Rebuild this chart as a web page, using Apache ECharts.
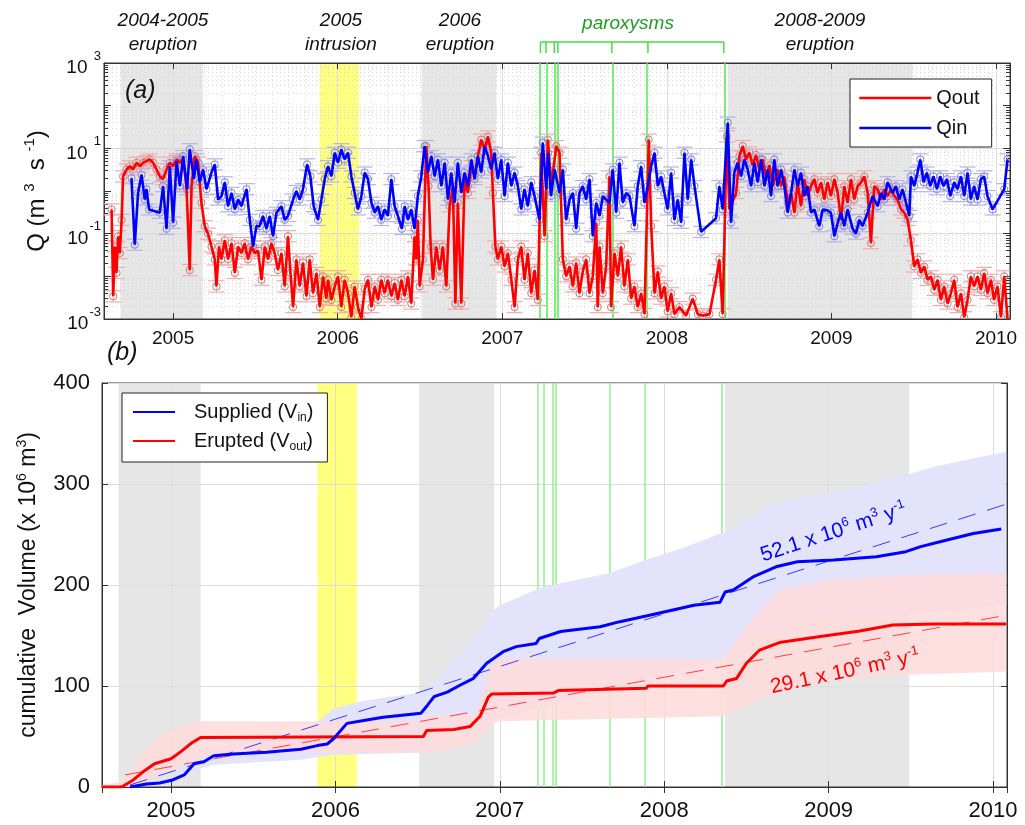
<!DOCTYPE html>
<html>
<head>
<meta charset="utf-8">
<script src="https://cdn.jsdelivr.net/npm/echarts@6/dist/echarts.min.js"></script>
<style>
  html, body { margin: 0; padding: 0; background: #fff; }
  #main { width: 1025px; height: 825px; }
</style>
</head>
<body>
<div id="main"></div>
<script>
// ---- data (time in decimal years) ----
// eruptive / intrusive periods
const eruptions = [[2004.68, 2005.18], [2006.51, 2006.965], [2008.37, 2009.49]];
const intrusion = [2005.89, 2006.13];
const paroxysms = [2007.232, 2007.266, 2007.316, 2007.338, 2007.666, 2007.885, 2008.346];

// (a) magma flux Qin, m3/s
const qin = [
  [2004.747, 2.0], [2004.767, 0.055], [2004.787, 0.9], [2004.808, 2.4], [2004.828, 0.63], [2004.838, 1.1],
  [2004.854, 0.37], [2004.919, 0.31], [2004.939, 1.3], [2004.960, 0.13], [2004.980, 3.8], [2005.000, 0.18],
  [2005.021, 5], [2005.041, 1.3], [2005.061, 6.6], [2005.085, 1.1], [2005.101, 9.5], [2005.126, 1.9],
  [2005.142, 5.5], [2005.162, 1.6], [2005.182, 3.2], [2005.203, 1.1], [2005.233, 2.7], [2005.253, 4.2],
  [2005.273, 0.63], [2005.294, 0.76], [2005.314, 1.6], [2005.334, 0.44], [2005.355, 0.9], [2005.375, 0.37],
  [2005.395, 0.63], [2005.415, 0.44], [2005.446, 1.1], [2005.466, 0.21], [2005.486, 0.05], [2005.506, 0.15],
  [2005.526, 0.15], [2005.546, 0.26], [2005.567, 0.13], [2005.587, 0.26], [2005.607, 0.087], [2005.628, 0.31],
  [2005.658, 0.44], [2005.678, 0.21], [2005.698, 0.26], [2005.729, 0.63], [2005.749, 1.0], [2005.769, 0.63],
  [2005.789, 1.1], [2005.814, 4.2], [2005.834, 2.2], [2005.854, 0.44], [2005.880, 0.21], [2005.901, 0.63],
  [2005.921, 1.9], [2005.941, 3.8], [2005.962, 2.2], [2005.982, 7.9], [2006.002, 4.6], [2006.022, 9.5],
  [2006.042, 5.5], [2006.063, 7.9], [2006.083, 2.2], [2006.103, 0.9], [2006.123, 0.37], [2006.144, 0.76],
  [2006.164, 2.7], [2006.184, 1.9], [2006.205, 0.53], [2006.225, 0.31], [2006.245, 0.44], [2006.265, 0.21],
  [2006.285, 0.37], [2006.305, 0.26], [2006.326, 1.9], [2006.346, 0.44], [2006.366, 0.26], [2006.390, 0.13],
  [2006.407, 0.44], [2006.427, 0.21], [2006.447, 0.37], [2006.467, 0.13], [2006.487, 0.76], [2006.508, 2.2],
  [2006.528, 11.3], [2006.548, 2.7], [2006.569, 6.6], [2006.589, 2.2], [2006.609, 5.5], [2006.630, 1.3],
  [2006.650, 4.6], [2006.670, 0.63], [2006.690, 2.7], [2006.710, 0.53], [2006.730, 4.6], [2006.751, 0.9],
  [2006.771, 2.7], [2006.791, 1.3], [2006.812, 5.5], [2006.832, 1.9], [2006.852, 6.6], [2006.872, 2.7],
  [2006.893, 11.3], [2006.913, 6.6], [2006.933, 3.2], [2006.953, 7.9], [2006.973, 1.9], [2006.994, 5.5],
  [2007.014, 0.76], [2007.034, 4.6], [2007.055, 1.3], [2007.075, 2.7], [2007.095, 1.3], [2007.115, 0.37],
  [2007.135, 1.1], [2007.155, 0.44], [2007.176, 1.6], [2007.196, 0.76], [2007.226, 0.21], [2007.246, 13.6],
  [2007.267, 1.1], [2007.279, 7.9], [2007.296, 0.76], [2007.318, 3.2], [2007.348, 0.9], [2007.368, 3.2],
  [2007.388, 0.21], [2007.409, 0.63], [2007.429, 0.9], [2007.449, 0.13], [2007.469, 0.9], [2007.489, 1.3],
  [2007.510, 0.63], [2007.530, 1.9], [2007.550, 0.087], [2007.571, 0.53], [2007.591, 0.26], [2007.611, 0.76],
  [2007.631, 0.63], [2007.651, 0.53], [2007.671, 3.2], [2007.692, 0.31], [2007.712, 4.6], [2007.732, 0.53],
  [2007.753, 0.9], [2007.773, 0.76], [2007.803, 0.15], [2007.823, 1.3], [2007.844, 3.8], [2007.864, 0.53],
  [2007.884, 1.3], [2007.905, 3.8], [2007.925, 7.9], [2007.945, 1.3], [2007.965, 2.2], [2007.985, 0.9],
  [2008.005, 0.37], [2008.026, 2.7], [2008.046, 0.21], [2008.066, 0.63], [2008.087, 0.18], [2008.107, 7.9],
  [2008.127, 0.63], [2008.148, 5.5], [2008.168, 1.3], [2008.208, 0.11], [2008.299, 0.23], [2008.319, 1.3],
  [2008.339, 0.37], [2008.370, 40], [2008.390, 0.18], [2008.410, 2.7], [2008.430, 4.6], [2008.451, 2.2],
  [2008.471, 5.5], [2008.491, 3.2], [2008.512, 1.3], [2008.532, 4.6], [2008.552, 1.6], [2008.573, 5.5],
  [2008.593, 1.3], [2008.613, 3.2], [2008.633, 0.76], [2008.653, 5.5], [2008.673, 1.3], [2008.694, 3.2],
  [2008.714, 1.3], [2008.734, 0.31], [2008.755, 0.9], [2008.775, 3.2], [2008.795, 1.3], [2008.815, 2.7],
  [2008.835, 0.76], [2008.855, 1.3], [2008.876, 0.31], [2008.896, 0.37], [2008.926, 0.15], [2008.947, 0.37],
  [2008.977, 0.35], [2008.997, 0.31], [2009.018, 0.087], [2009.038, 0.18], [2009.058, 0.31], [2009.078, 0.15],
  [2009.098, 0.37], [2009.129, 0.13], [2009.149, 0.1], [2009.169, 0.21], [2009.189, 0.15], [2009.220, 0.31],
  [2009.250, 0.76], [2009.281, 0.44], [2009.301, 0.9], [2009.321, 0.63], [2009.341, 1.6], [2009.372, 0.9],
  [2009.392, 1.3], [2009.412, 0.63], [2009.432, 1.1], [2009.453, 0.53], [2009.473, 0.26], [2009.483, 2.2],
  [2009.503, 1.3], [2009.523, 2.7], [2009.540, 5.5], [2009.560, 1.6], [2009.580, 2.7], [2009.600, 1.3],
  [2009.620, 2.2], [2009.641, 1.1], [2009.661, 2.2], [2009.681, 1.3], [2009.702, 1.9], [2009.722, 0.76],
  [2009.746, 1.6], [2009.766, 1.1], [2009.787, 2.2], [2009.807, 0.76], [2009.827, 2.7], [2009.847, 0.63],
  [2009.867, 1.3], [2009.888, 0.63], [2009.908, 1.9], [2009.928, 2.2], [2009.948, 0.76], [2009.979, 0.37],
  [2010.050, 1.1], [2010.070, 5.5]
];

// (a) output rate Qout, m3/s
const qout = [
  [2004.626, 0.37], [2004.636, 0.0034], [2004.646, 0.05], [2004.656, 0.012], [2004.666, 0.087], [2004.676, 0.035],
  [2004.687, 0.21], [2004.696, 2.2], [2004.717, 3.2], [2004.737, 3.8], [2004.757, 3.2], [2004.778, 4.6],
  [2004.798, 3.8], [2004.818, 4.6], [2004.838, 5], [2004.858, 5.5], [2004.879, 4.6], [2004.899, 3.2],
  [2004.919, 2.2], [2004.939, 1.9], [2004.960, 3.2], [2004.980, 4.6], [2005.000, 3.8], [2005.021, 5.5],
  [2005.041, 4.6], [2005.061, 5.5], [2005.081, 1.3], [2005.101, 0.014], [2005.112, 1.3], [2005.132, 6.6],
  [2005.152, 4.6], [2005.172, 0.53], [2005.192, 0.15], [2005.212, 0.1], [2005.233, 0.05], [2005.253, 0.025],
  [2005.263, 0.0058], [2005.279, 0.05], [2005.294, 0.025], [2005.314, 0.07], [2005.334, 0.025], [2005.355, 0.06],
  [2005.375, 0.012], [2005.395, 0.05], [2005.415, 0.035], [2005.435, 0.06], [2005.455, 0.025], [2005.476, 0.05],
  [2005.496, 0.035], [2005.516, 0.04], [2005.537, 0.0083], [2005.557, 0.05], [2005.577, 0.025], [2005.597, 0.06],
  [2005.617, 0.035], [2005.637, 0.014], [2005.658, 0.035], [2005.678, 0.0058], [2005.698, 0.087], [2005.713, 0.012],
  [2005.729, 0.0019], [2005.749, 0.025], [2005.769, 0.0058], [2005.789, 0.021], [2005.810, 0.0034], [2005.830, 0.025],
  [2005.850, 0.004], [2005.871, 0.012], [2005.891, 0.0019], [2005.911, 0.01], [2005.931, 0.003], [2005.941, 0.0083],
  [2005.962, 0.0028], [2005.982, 0.0058], [2006.002, 0.01], [2006.022, 0.0019], [2006.042, 0.0083], [2006.063, 0.004],
  [2006.083, 0.0011], [2006.103, 0.0058], [2006.123, 0.0019], [2006.144, 0.001], [2006.164, 0.005], [2006.184, 0.0083],
  [2006.205, 0.0019], [2006.225, 0.0058], [2006.245, 0.0028], [2006.265, 0.0083], [2006.285, 0.004], [2006.305, 0.0083],
  [2006.326, 0.0034], [2006.346, 0.007], [2006.366, 0.0028], [2006.387, 0.0083], [2006.407, 0.0034], [2006.427, 0.01],
  [2006.447, 0.0023], [2006.467, 0.087], [2006.477, 0.025], [2006.487, 0.21], [2006.498, 0.0058], [2006.518, 0.025],
  [2006.538, 11.3], [2006.552, 1.3], [2006.565, 0.05], [2006.579, 0.0083], [2006.599, 0.05], [2006.619, 0.014],
  [2006.639, 0.05], [2006.660, 0.0058], [2006.680, 0.44], [2006.700, 1.3], [2006.715, 0.0023], [2006.730, 0.53],
  [2006.751, 0.0023], [2006.771, 1.9], [2006.791, 0.9], [2006.812, 3.8], [2006.832, 2.2], [2006.852, 6.6],
  [2006.872, 16], [2006.893, 9.5], [2006.913, 19], [2006.933, 7.9], [2006.943, 0.9], [2006.958, 0.05],
  [2006.973, 0.025], [2006.994, 0.05], [2007.014, 0.017], [2007.034, 0.035], [2007.055, 0.0083], [2007.075, 0.0019],
  [2007.095, 0.025], [2007.115, 0.05], [2007.135, 0.0083], [2007.155, 0.035], [2007.176, 0.004], [2007.196, 0.014],
  [2007.216, 0.0028], [2007.236, 7.9], [2007.257, 0.087], [2007.277, 16], [2007.297, 1.3], [2007.328, 11.3],
  [2007.348, 7.9], [2007.368, 0.025], [2007.388, 0.01], [2007.409, 0.017], [2007.429, 0.0058], [2007.449, 0.021],
  [2007.469, 0.004], [2007.489, 0.013], [2007.510, 0.025], [2007.530, 0.004], [2007.550, 0.01], [2007.571, 0.18],
  [2007.580, 0.0019], [2007.591, 0.05], [2007.611, 0.004], [2007.631, 0.017], [2007.651, 2.2], [2007.661, 0.0019],
  [2007.682, 0.035], [2007.702, 0.01], [2007.722, 0.05], [2007.742, 0.0058], [2007.763, 0.025], [2007.783, 0.003],
  [2007.803, 0.0058], [2007.823, 0.0019], [2007.844, 0.004], [2007.864, 0.0013], [2007.890, 16], [2007.905, 0.15],
  [2007.925, 0.004], [2007.945, 0.013], [2007.965, 0.003], [2007.985, 0.0058], [2008.005, 0.0015], [2008.026, 0.004],
  [2008.046, 0.0013], [2008.076, 0.0019], [2008.117, 0.0012], [2008.157, 0.003], [2008.188, 0.0013], [2008.218, 0.0012],
  [2008.259, 0.0013], [2008.299, 0.0083], [2008.319, 0.025], [2008.339, 0.0013], [2008.364, 19], [2008.380, 0.37],
  [2008.421, 0.9], [2008.441, 6.6], [2008.461, 11.3], [2008.481, 5.5], [2008.501, 8], [2008.522, 4],
  [2008.542, 7], [2008.562, 3.2], [2008.582, 5.5], [2008.603, 2.2], [2008.623, 4], [2008.643, 1.3],
  [2008.673, 3.2], [2008.694, 1.3], [2008.714, 2.2], [2008.734, 0.53], [2008.755, 0.9], [2008.775, 0.31],
  [2008.795, 1.6], [2008.815, 0.44], [2008.835, 1.9], [2008.855, 0.76], [2008.876, 1.3], [2008.896, 1.9],
  [2008.916, 0.9], [2008.937, 1.6], [2008.957, 0.63], [2008.977, 1.6], [2008.997, 0.76], [2009.018, 1.9],
  [2009.038, 0.9], [2009.058, 0.21], [2009.078, 1.3], [2009.098, 0.53], [2009.119, 1.9], [2009.139, 0.63],
  [2009.159, 1.3], [2009.180, 1.6], [2009.200, 2.2], [2009.220, 0.9], [2009.240, 0.06], [2009.260, 1.3],
  [2009.281, 1.1], [2009.301, 0.63], [2009.321, 1.1], [2009.341, 0.76], [2009.362, 1.1], [2009.382, 0.76],
  [2009.402, 0.63], [2009.423, 0.37], [2009.443, 0.31], [2009.463, 0.21], [2009.483, 0.07], [2009.503, 0.017],
  [2009.523, 0.025], [2009.544, 0.012], [2009.564, 0.017], [2009.584, 0.0083], [2009.605, 0.01], [2009.625, 0.0048],
  [2009.645, 0.0083], [2009.665, 0.0028], [2009.685, 0.0058], [2009.706, 0.0023], [2009.726, 0.004], [2009.746, 0.0083],
  [2009.766, 0.0019], [2009.787, 0.004], [2009.807, 0.0011], [2009.827, 0.0028], [2009.847, 0.01], [2009.867, 0.0058],
  [2009.888, 0.01], [2009.908, 0.0048], [2009.928, 0.012], [2009.948, 0.004], [2009.969, 0.0083], [2009.988, 0.0028],
  [2010.009, 0.0058], [2010.030, 0.0011], [2010.050, 0.01], [2010.070, 0.001]
];

// (b) cumulative volumes, 10^6 m3
const vin = [
  [2004.75, 0], [2004.85, 3], [2004.93, 4], [2005.01, 7], [2005.08, 12], [2005.14, 23], [2005.20, 25],
  [2005.26, 31], [2005.38, 32.7], [2005.58, 34.3], [2005.79, 37.3], [2005.89, 41], [2005.95, 42.6],
  [2005.99, 48], [2006.07, 63], [2006.19, 66.3], [2006.29, 69], [2006.52, 73], [2006.56, 81], [2006.60, 89.4],
  [2006.68, 94], [2006.76, 101], [2006.84, 107.6], [2006.92, 122.5], [2007.02, 134], [2007.10, 139],
  [2007.22, 142], [2007.24, 147], [2007.37, 154], [2007.61, 158.7], [2007.73, 163.7], [2007.89, 169.3],
  [2008.10, 177], [2008.18, 180], [2008.34, 183], [2008.35, 183.5], [2008.37, 193], [2008.42, 195],
  [2008.54, 208], [2008.68, 218], [2008.81, 223], [2009.03, 224.8], [2009.29, 228], [2009.47, 233],
  [2009.56, 238], [2009.72, 244.6], [2009.88, 251], [2010.05, 255.4]
];
const vout = [
  [2004.58, 0], [2004.70, 0], [2004.77, 7], [2004.83, 15], [2004.90, 23], [2005.00, 28], [2005.06, 35],
  [2005.12, 43], [2005.18, 49], [2006.535, 50], [2006.555, 56], [2006.72, 57], [2006.82, 60], [2006.88, 70],
  [2006.93, 89], [2006.95, 92], [2007.325, 93], [2007.355, 95.5], [2007.89, 97.7], [2007.90, 100],
  [2008.36, 100], [2008.38, 105], [2008.44, 107.5], [2008.50, 122.5], [2008.58, 135.6], [2008.70, 143],
  [2008.95, 149], [2009.19, 154.5], [2009.39, 160.4], [2009.64, 161.4], [2010.08, 161.4]
];
// uncertainty envelopes
const vinHigh = [
  [2004.75, 0], [2005.0, 12], [2005.2, 35], [2005.26, 40], [2005.785, 50], [2005.99, 78], [2006.19, 86],
  [2006.5, 93], [2006.6, 103], [2006.8, 139], [2006.96, 175], [2007.0, 180], [2007.26, 198], [2007.67, 212],
  [2007.89, 225], [2008.14, 238], [2008.34, 251], [2008.4, 254], [2008.62, 277], [2008.82, 287],
  [2009.03, 291], [2009.43, 307], [2009.64, 317], [2009.84, 324], [2010.08, 332]
];
const vinLow = [
  [2004.75, 0], [2005.26, 22], [2005.79, 27], [2005.99, 32], [2006.5, 34], [2006.6, 40], [2006.8, 56],
  [2006.96, 66], [2007.5, 90], [2008.0, 110], [2008.35, 125], [2008.45, 140], [2008.7, 160], [2009.4, 170],
  [2010.08, 180]
];
const voutHigh = [
  [2004.58, 2], [2004.70, 5], [2004.77, 20], [2004.83, 34], [2004.93, 50], [2005.04, 60], [2005.14, 65],
  [2006.5, 65], [2006.55, 70], [2006.85, 72], [2006.95, 120], [2007.0, 127], [2008.36, 127], [2008.5, 160],
  [2008.7, 195], [2009.0, 205], [2009.5, 210], [2010.08, 212]
];
const voutLow = [
  [2004.58, 0], [2004.75, 0], [2004.98, 14], [2005.18, 30], [2005.3, 34], [2006.5, 34], [2006.6, 35],
  [2006.84, 43], [2006.96, 63], [2007.0, 65], [2008.37, 70], [2008.5, 81], [2008.62, 89], [2008.82, 99],
  [2009.03, 106], [2009.43, 111], [2010.08, 114]
];
// linear trends (52.1 and 29.1 x 10^6 m3/y)
const vinTrend = [[2004.75, 2], [2010.08, 280]];
const voutTrend = [[2004.72, 12], [2010.08, 170]];

// ---- look ----
const xMin = 2004.58, xMax = 2010.085;
const fontA = 'Liberation Sans, Arial, sans-serif';
const errFactor = 1.35;   // relative error drawn on the flux samples
const capWidth = 16;

const chart = echarts.init(document.getElementById('main'));

const yearLabel = v => Math.abs(v - Math.round(v)) < 1e-6 ? String(Math.round(v)) : '';

function xAxes(grid, labelSize, margin, minorGrid) {
  return [{
    gridIndex: grid, type: 'value', min: xMin, max: xMax, position: 'bottom',
    axisLine: { lineStyle: { color: '#333' } },
    axisTick: { inside: true, length: 6, lineStyle: { color: '#333' } },
    axisLabel: { formatter: yearLabel, fontSize: labelSize, fontFamily: fontA, color: '#111', margin: margin },
    splitLine: { show: true, lineStyle: { color: '#dcdcdc', width: 1 } },
    minorTick: { show: false, splitNumber: 10 },
    minorSplitLine: { show: minorGrid, lineStyle: { color: '#dcdcdc', type: [1, 3] } }
  }, {
    gridIndex: grid, type: 'value', min: xMin, max: xMax, position: 'top',
    axisLine: { lineStyle: { color: '#333' } },
    axisTick: { inside: true, length: 6, lineStyle: { color: '#333' } },
    axisLabel: { show: false }, splitLine: { show: false }
  }];
}

function errorBars(circleColor, capColor) {
  return function (params, api) {
    const x = api.value(0), y = api.value(1);
    const c = api.coord([x, y]);
    const hi = api.coord([x, y * errFactor])[1];
    const lo = api.coord([x, y / errFactor])[1];
    const w = capWidth / 2;
    return {
      type: 'group',
      children: [
        { type: 'line', shape: { x1: c[0], y1: hi, x2: c[0], y2: lo }, style: { stroke: capColor, lineWidth: 1 } },
        { type: 'line', shape: { x1: c[0] - w, y1: hi, x2: c[0] + w, y2: hi }, style: { stroke: capColor, lineWidth: 1.2 } },
        { type: 'line', shape: { x1: c[0] - w, y1: lo, x2: c[0] + w, y2: lo }, style: { stroke: capColor, lineWidth: 1.2 } },
        { type: 'circle', shape: { cx: c[0], cy: c[1], r: 3.6 }, style: { fill: 'none', stroke: circleColor, lineWidth: 1 } }
      ]
    };
  };
}

function band(upper, lower, color) {
  return function (params, api) {
    const pts = upper.map(d => api.coord(d)).concat(lower.slice().reverse().map(d => api.coord(d)));
    return { type: 'polygon', shape: { points: pts }, style: { fill: color } };
  };
}

const shading = {
  silent: true, z: -1,
  itemStyle: { color: '#e6e6e6' },
  data: eruptions.map(p => [{ xAxis: p[0] }, { xAxis: p[1] }])
    .concat([[{ xAxis: intrusion[0], itemStyle: { color: '#ffff80' } }, { xAxis: intrusion[1] }]])
};

function paroxysmLines(color) {
  return {
    silent: true, z: 1, symbol: ['none', 'none'],
    label: { show: false },
    lineStyle: { color: color, width: 1.5, type: 'solid' },
    data: paroxysms.map(t => ({ xAxis: t }))
  };
}

const supRich = {
  b: { fontSize: 19, fontFamily: fontA, color: '#111', padding: [10, 0, 0, 0] },
  s: { fontSize: 13, fontFamily: fontA, color: '#111', padding: [0, 0, 14, 1] }
};

const topNote = 'italic 19px ' + fontA;

const option = {
  animation: false,
  backgroundColor: '#fff',
  grid: [
    { left: 104, top: 63, width: 906, height: 256, show: true, borderColor: '#333', borderWidth: 1 },
    { left: 102, top: 383, width: 905, height: 404, show: true, borderColor: '#333', borderWidth: 1 }
  ],
  xAxis: xAxes(0, 19, 10, true).concat(xAxes(1, 22, 13, false)),
  yAxis: [{
    gridIndex: 0, type: 'log', logBase: 10, min: 0.001, max: 1000,
    axisLine: { lineStyle: { color: '#333' } },
    axisTick: { inside: true, length: 7, lineStyle: { color: '#333' } },
    minorTick: { show: true, splitNumber: 9, length: 4, lineStyle: { color: '#333' } },
    axisLabel: {
      margin: 3, color: '#111',
      formatter: v => {
        const e = Math.round(Math.log10(v));
        if (Math.abs(e) % 2 !== 1) return '';
        return e > 0 ? '{b|10 }{s|' + e + '}' : '{b|10}{s|' + e + '}';
      },
      rich: supRich
    },
    splitLine: { show: true, lineStyle: { color: ['#d8d8d8', 'rgba(0,0,0,0)'] } },
    minorSplitLine: { show: true, lineStyle: { color: '#d8d8d8', type: [1, 3] } },
    name: '{t|Q (m }{s|3}{t|  s }{s|-1}{t|)}',
    nameLocation: 'middle', nameRotate: 90, nameGap: 52,
    nameTextStyle: {
      rich: {
        t: { fontSize: 24, fontFamily: fontA, color: '#111' },
        s: { fontSize: 15, fontFamily: fontA, color: '#111', padding: [0, 0, 15, 0] }
      }
    }
  }, {
    gridIndex: 0, type: 'log', logBase: 10, min: 0.001, max: 1000, position: 'right',
    axisLine: { lineStyle: { color: '#333' } },
    axisTick: { inside: true, length: 7, lineStyle: { color: '#333' } },
    minorTick: { show: true, splitNumber: 9, length: 4, lineStyle: { color: '#333' } },
    axisLabel: { show: false }, splitLine: { show: false }
  }, {
    gridIndex: 1, type: 'value', min: 0, max: 400, interval: 100,
    axisLine: { lineStyle: { color: '#333' } },
    axisTick: { inside: true, length: 6, lineStyle: { color: '#333' } },
    axisLabel: { fontSize: 22, fontFamily: fontA, color: '#111', margin: 12 },
    splitLine: { show: true, lineStyle: { color: '#dcdcdc' } },
    name: '{t|cumulative  Volume (x 10}{s|6}{t| m}{s|3}{t|)}',
    nameLocation: 'middle', nameRotate: 90, nameGap: 60,
    nameTextStyle: {
      rich: {
        t: { fontSize: 23, fontFamily: fontA, color: '#111' },
        s: { fontSize: 14, fontFamily: fontA, color: '#111', padding: [0, 0, 13, 0] }
      }
    }
  }, {
    gridIndex: 1, type: 'value', min: 0, max: 400, interval: 100, position: 'right',
    axisLine: { lineStyle: { color: '#333' } },
    axisTick: { inside: true, length: 6, lineStyle: { color: '#333' } },
    axisLabel: { show: false }, splitLine: { show: false }
  }],
  legend: [{
    data: ['Qout', 'Qin'],
    orient: 'vertical', left: 850, top: 79,
    itemWidth: 72, itemHeight: 11, itemGap: 10,
    padding: [9, 12, 9, 8],
    borderColor: '#222', borderWidth: 1, backgroundColor: '#fff',
    lineStyle: { width: 2.6 },
    itemStyle: { opacity: 0 },
    textStyle: { fontSize: 20, fontFamily: fontA, color: '#111' },
    z: 10
  }, {
    data: ['Supplied', 'Erupted'], orient: 'vertical', left: 122, top: 393,
    itemWidth: 42, itemHeight: 14, itemGap: 7,
    padding: [9, 14, 9, 10],
    borderColor: '#222', borderWidth: 1, backgroundColor: '#fff',
    lineStyle: { width: 2 },
    itemStyle: { opacity: 0 },
    formatter: n => n === 'Supplied' ? '{t|Supplied (V}{u|in}{t|)}' : '{t|Erupted (V}{u|out}{t|)}',
    textStyle: {
      padding: [0, 0, 0, 14],
      rich: {
        t: { fontSize: 20, fontFamily: fontA, color: '#111' },
        u: { fontSize: 12, fontFamily: fontA, color: '#111', padding: [12, 0, 0, 0] }
      }
    },
    z: 10
  }],
  graphic: [
    { type: 'text', x: 163, y: 33, style: { text: '2004-2005\neruption', font: topNote, fill: '#111', align: 'center', verticalAlign: 'middle', lineHeight: 24 } },
    { type: 'text', x: 341, y: 33, style: { text: '2005\nintrusion', font: topNote, fill: '#111', align: 'center', verticalAlign: 'middle', lineHeight: 24 } },
    { type: 'text', x: 460, y: 33, style: { text: '2006\neruption', font: topNote, fill: '#111', align: 'center', verticalAlign: 'middle', lineHeight: 24 } },
    { type: 'text', x: 628, y: 24, style: { text: 'paroxysms', font: topNote, fill: '#1e9e1e', align: 'center', verticalAlign: 'middle' } },
    { type: 'text', x: 820, y: 33, style: { text: '2008-2009\neruption', font: topNote, fill: '#111', align: 'center', verticalAlign: 'middle', lineHeight: 24 } },
    { type: 'text', x: 125, y: 91, z: 20, style: { text: '(a)', font: 'italic 25px ' + fontA, fill: '#111', verticalAlign: 'middle' } },
    { type: 'text', x: 107, y: 353, z: 20, style: { text: '(b)', font: 'italic 25px ' + fontA, fill: '#111', verticalAlign: 'middle' } }
  ],
  series: [
    // ---- panel (a) ----
    {
      name: 'shadeA', type: 'line', xAxisIndex: 0, yAxisIndex: 0, data: [],
      markArea: shading, markLine: paroxysmLines('#4cee4c')
    },
    {
      name: 'bracket', type: 'custom', xAxisIndex: 0, yAxisIndex: 0, clip: false, silent: true,
      data: paroxysms.map(t => [t, 1000]),
      renderItem: function (params, api) {
        const p = api.coord([api.value(0), 1000]);
        const kids = [{ type: 'line', shape: { x1: p[0], y1: p[1] - 21, x2: p[0], y2: p[1] - 10 }, style: { stroke: '#44dd44', lineWidth: 1.5 } }];
        if (params.dataIndex === 0) {
          const q = api.coord([paroxysms[paroxysms.length - 1], 1000]);
          kids.push({ type: 'line', shape: { x1: p[0], y1: p[1] - 21, x2: q[0], y2: p[1] - 21 }, style: { stroke: '#44dd44', lineWidth: 1.5 } });
        }
        return { type: 'group', children: kids };
      }
    },
    {
      name: 'qoutErr', type: 'custom', xAxisIndex: 0, yAxisIndex: 0, clip: true, silent: true, z: 2,
      encode: { x: 0, y: 1 }, data: qout, renderItem: errorBars('#b88383', '#f6abab')
    },
    {
      name: 'qinErr', type: 'custom', xAxisIndex: 0, yAxisIndex: 0, clip: true, silent: true, z: 2,
      encode: { x: 0, y: 1 }, data: qin, renderItem: errorBars('#8585c4', '#b3b3f2')
    },
    {
      name: 'Qout', type: 'line', xAxisIndex: 0, yAxisIndex: 0, data: qout, z: 3,
      symbol: 'none',
      itemStyle: { color: '#ff0000' }, lineStyle: { color: '#ff0000', width: 2.6 }
    },
    {
      name: 'Qin', type: 'line', xAxisIndex: 0, yAxisIndex: 0, data: qin, z: 4,
      symbol: 'none',
      itemStyle: { color: '#0000ff' }, lineStyle: { color: '#0000ff', width: 2.6 }
    },
    // ---- panel (b) ----
    {
      name: 'shadeB', type: 'line', xAxisIndex: 2, yAxisIndex: 2, data: [],
      markArea: shading, markLine: paroxysmLines('#90ef90')
    },
    {
      name: 'vinBand', type: 'custom', xAxisIndex: 2, yAxisIndex: 2, clip: true, silent: true, z: 2,
      data: [[xMin, 0]], renderItem: band(vinHigh, vinLow, '#e3e3fb')
    },
    {
      name: 'voutBand', type: 'custom', xAxisIndex: 2, yAxisIndex: 2, clip: true, silent: true, z: 2,
      data: [[xMin, 0]], renderItem: band(voutHigh, voutLow, 'rgba(255,218,218,0.85)')
    },
    {
      name: 'vinTrend', type: 'line', xAxisIndex: 2, yAxisIndex: 2, data: vinTrend, z: 3, symbol: 'none',
      lineStyle: { color: '#3b3bff', width: 1, type: [18, 12] },
      markPoint: {
        symbol: 'circle', symbolSize: 1, itemStyle: { color: 'rgba(0,0,0,0)' },
        label: {
          show: true, position: 'inside', rotate: 18,
          formatter: '{t|52.1 x 10}{s|6}{t| m}{s|3}{t| y}{s|-1}',
          rich: {
            t: { fontSize: 21, fontFamily: fontA, color: '#0000ff' },
            s: { fontSize: 13, fontFamily: fontA, color: '#0000ff', padding: [0, 0, 12, 0] }
          }
        },
        data: [{ coord: [2009.03, 252] }]
      }
    },
    {
      name: 'voutTrend', type: 'line', xAxisIndex: 2, yAxisIndex: 2, data: voutTrend, z: 3, symbol: 'none',
      lineStyle: { color: '#ff4040', width: 1, type: [18, 12] },
      markPoint: {
        symbol: 'circle', symbolSize: 1, itemStyle: { color: 'rgba(0,0,0,0)' },
        label: {
          show: true, position: 'inside', rotate: 12,
          formatter: '{t|29.1 x 10}{s|6}{t| m}{s|3}{t| y}{s|-1}',
          rich: {
            t: { fontSize: 21, fontFamily: fontA, color: '#ff0000' },
            s: { fontSize: 13, fontFamily: fontA, color: '#ff0000', padding: [0, 0, 12, 0] }
          }
        },
        data: [{ coord: [2009.10, 114] }]
      }
    },
    {
      name: 'Erupted', type: 'line', xAxisIndex: 2, yAxisIndex: 2, data: vout, z: 4, symbol: 'none',
      itemStyle: { color: '#ff0000' }, lineStyle: { color: '#ff0000', width: 3 }
    },
    {
      name: 'Supplied', type: 'line', xAxisIndex: 2, yAxisIndex: 2, data: vin, z: 4, symbol: 'none',
      itemStyle: { color: '#0000ff' }, lineStyle: { color: '#0000ff', width: 3 }
    }
  ]
};

chart.setOption(option);
</script>
</body>
</html>
